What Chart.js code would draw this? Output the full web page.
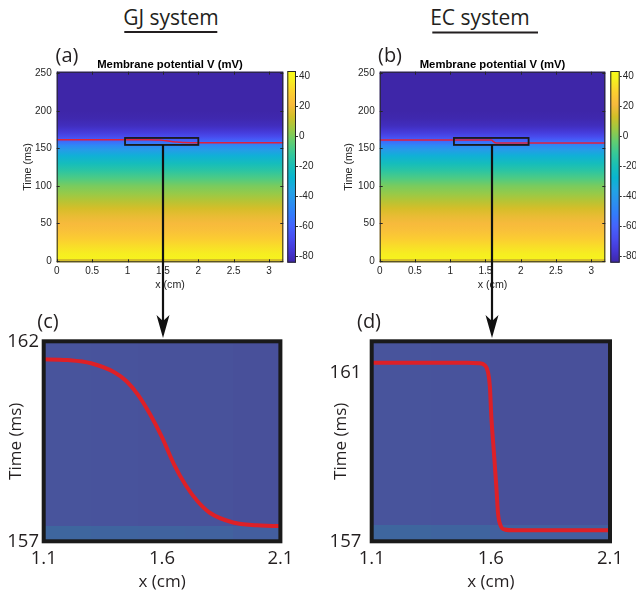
<!DOCTYPE html>
<html>
<head>
<meta charset="utf-8">
<script src="https://cdn.jsdelivr.net/npm/chart.js@4.4.1/dist/chart.umd.min.js"></script>
<style>
  body { margin: 0; background: #fff; }
  #fig { position: relative; width: 636px; height: 597px; overflow: hidden; color: #231f20; }
  #fig canvas { position: absolute; }
  .t { position: absolute; white-space: nowrap; line-height: 1; transform: translateX(-50%); }
  .os { font-family: "Open Sans", sans-serif; }
  .ar { font-family: "Liberation Sans", Arial, sans-serif; font-weight: bold; font-size: 11.3px; color: #000; }
</style>
</head>
<body>
<div id="fig">
  <canvas id="heatGJ" width="300" height="240" style="left:0;top:60px"></canvas>
  <canvas id="barGJ" width="40" height="215" style="left:280px;top:60px"></canvas>
  <canvas id="heatEC" width="300" height="240" style="left:323px;top:60px"></canvas>
  <canvas id="barEC" width="33" height="215" style="left:603px;top:60px"></canvas>
  <canvas id="zoomGJ" width="300" height="297" style="left:0;top:300px"></canvas>
  <canvas id="zoomEC" width="316" height="297" style="left:320px;top:300px"></canvas>

  <div class="t os" style="left:171px;top:7px;font-size:21px">GJ system</div>
  <div class="t os" style="left:480px;top:7px;font-size:21px">EC system</div>
  <div class="t os" style="left:67px;top:45px;font-size:20px">(a)</div>
  <div class="t os" style="left:390px;top:45px;font-size:20px">(b)</div>
  <div class="t ar" style="left:170px;top:59px">Membrane potential V (mV)</div>
  <div class="t ar" style="left:492.5px;top:59px">Membrane potential V (mV)</div>
  <div class="t os" style="left:48px;top:311px;font-size:20px">(c)</div>
  <div class="t os" style="left:369px;top:311px;font-size:20px">(d)</div>

  <svg width="636" height="597" style="position:absolute;left:0;top:0;pointer-events:none">
    <line x1="124.3" y1="32" x2="217.3" y2="32" stroke="#231f20" stroke-width="2"/>
    <line x1="432.3" y1="32.5" x2="538" y2="32.5" stroke="#231f20" stroke-width="2"/>
    <line x1="163" y1="145" x2="163" y2="322" stroke="#111" stroke-width="2.2"/>
    <polygon points="163,338 156.5,315 163,321 169.5,315" fill="#111"/>
    <line x1="492" y1="145" x2="492" y2="322" stroke="#111" stroke-width="2.2"/>
    <polygon points="492,338 485.5,315 492,321 498.5,315" fill="#111"/>
  </svg>
</div>

<script>
// ---- data ----
const heatXTicks = [0, 0.5, 1, 1.5, 2, 2.5, 3];
const heatYTicks = [0, 50, 100, 150, 200, 250];
const barTicks = [-80, -60, -40, -20, 0, 20, 40];
const zoomXTicks = [1.1, 1.6, 2.1];
const gjYTicks = [157, 162];
const ecYTicks = [157, 161];

// membrane potential (mV) along the time axis (rows of the heatmap)
const heatTime = [-2, 2.5, 3, 10, 20, 30, 40, 50, 60, 70, 80, 90, 100, 110, 120, 130, 140, 148, 154, 158, 162, 166, 170, 175, 180, 190, 200, 252];
const heatV    = [14, 14, 39, 37, 33, 28, 24, 21, 18, 14, 9, 4, 0, -7, -14, -21, -30, -39, -47, -55, -63, -69, -73, -77, -80, -83, -84, -84];

// wave front (ms) along x (cm)
const gjX = [0, 1.1, 1.2, 1.3, 1.4, 1.45, 1.5, 1.55, 1.6, 1.65, 1.7, 1.75, 1.8, 1.9, 2.0, 2.1, 3.2];
const gjT = [161.6, 161.55, 161.53, 161.45, 161.22, 161.0, 160.65, 160.17, 159.6, 158.93, 158.4, 158.0, 157.72, 157.47, 157.4, 157.38, 157.35];
const ecX = [0, 1.1, 1.3, 1.5, 1.55, 1.575, 1.588, 1.596, 1.602, 1.612, 1.623, 1.63, 1.642, 1.658, 1.7, 1.9, 2.1, 3.2];
const ecT = [161.24, 161.24, 161.24, 161.24, 161.23, 161.18, 161.02, 160.67, 159.96, 159.17, 158.3, 157.67, 157.36, 157.28, 157.26, 157.26, 157.26, 157.26];

// zoomed background cells (mV)
const cellT = [157, 157.4, 162];
const gjCellX = [1.1, 1.3, 1.5, 1.7, 1.9, 2.1];
const gjCellLow = [-51, -52, -53, -54, -56];
const gjCellHigh = [-64, -65, -65.5, -66, -67];
const ecCellX = [1.1, 1.35, 1.6, 1.85, 2.1];
const ecCellLow = [-51, -52, -55, -56];
const ecCellHigh = [-64, -64.5, -67, -67];

const vMin = -84, vMax = 43.5;

// parula
const parula = [
  [0 / 63, [62, 38, 168]], [4 / 63, [69, 55, 213]], [8 / 63, [72, 77, 240]], [12 / 63, [69, 99, 253]],
  [16 / 63, [50, 124, 252]], [20 / 63, [43, 145, 239]], [24 / 63, [32, 165, 227]], [28 / 63, [8, 181, 208]],
  [32 / 63, [25, 191, 182]], [36 / 63, [55, 200, 151]], [40 / 63, [100, 205, 111]], [44 / 63, [157, 201, 67]],
  [48 / 63, [209, 191, 39]], [52 / 63, [248, 186, 61]], [56 / 63, [252, 207, 48]], [60 / 63, [246, 239, 32]],
  [63 / 63, [249, 251, 21]]
];

function colorFor(v) {
  let f = (v - vMin) / (vMax - vMin);
  f = Math.max(0, Math.min(1, f));
  for (let i = 1; i < parula.length; i++) {
    if (f <= parula[i][0]) {
      const f0 = parula[i - 1][0], c0 = parula[i - 1][1], f1 = parula[i][0], c1 = parula[i][1];
      const k = (f - f0) / (f1 - f0);
      return 'rgb(' + c0.map((c, j) => Math.round(c + (c1[j] - c) * k)).join(',') + ')';
    }
  }
  return 'rgb(249,251,21)';
}

const armFont = '"Liberation Sans", Arial, sans-serif';
const osFont = '"Open Sans", sans-serif';
const dark = '#262626';

function fixTicks(list) {
  return s => { s.ticks = list.map(v => ({ value: v })); };
}

// heatmap rows, MATLAB-style box, zoom box
function heatPlugin(box) {
  return {
    id: 'heat',
    beforeDatasetsDraw(chart) {
      const { ctx, chartArea: a, scales: { y } } = chart;
      const g = ctx.createLinearGradient(0, a.bottom, 0, a.top);
      heatTime.forEach((t, i) => {
        const f = (a.bottom - y.getPixelForValue(t)) / (a.bottom - a.top);
        g.addColorStop(Math.max(0, Math.min(1, f)), colorFor(heatV[i]));
      });
      ctx.save();
      ctx.fillStyle = g;
      ctx.fillRect(a.left, a.top, a.width, a.height);
      ctx.restore();
    },
    afterDatasetsDraw(chart) {
      const { ctx, chartArea: a, scales: { x, y } } = chart;
      ctx.save();
      ctx.strokeStyle = dark;
      ctx.lineWidth = 1;
      ctx.beginPath();
      x.ticks.forEach(tk => {
        const px = Math.round(x.getPixelForValue(tk.value)) + 0.5;
        ctx.moveTo(px, a.bottom); ctx.lineTo(px, a.bottom - 3);
        ctx.moveTo(px, a.top); ctx.lineTo(px, a.top + 3);
      });
      y.ticks.forEach(tk => {
        const py = Math.round(y.getPixelForValue(tk.value)) + 0.5;
        ctx.moveTo(a.left, py); ctx.lineTo(a.left + 3, py);
        ctx.moveTo(a.right, py); ctx.lineTo(a.right - 3, py);
      });
      ctx.stroke();
      ctx.strokeRect(a.left + 0.5, a.top + 0.5, a.width - 1, a.height - 1);
      // zoom window
      const x0 = x.getPixelForValue(box[0]), x1 = x.getPixelForValue(box[1]);
      const y0 = y.getPixelForValue(box[3]), y1 = y.getPixelForValue(box[2]);
      ctx.strokeStyle = '#1a1a1a';
      ctx.lineWidth = 1.8;
      ctx.strokeRect(x0, y0, x1 - x0, y1 - y0);
      ctx.restore();
    }
  };
}

function heatChart(id, xs, ts, box, yTitlePad, rightPad) {
  return new Chart(document.getElementById(id), {
    type: 'scatter',
    data: {
      datasets: [{
        data: xs.map((v, i) => ({ x: v, y: ts[i] })),
        showLine: true, borderColor: '#e0203c', borderWidth: 1.5,
        pointRadius: 0, cubicInterpolationMode: 'monotone', fill: false
      }]
    },
    options: {
      responsive: false, animation: false, devicePixelRatio: 1, events: [],
      layout: { padding: { left: 0, top: 11.7, right: rightPad, bottom: 0 } },
      plugins: { legend: { display: false }, tooltip: { enabled: false } },
      scales: {
        x: {
          type: 'linear', min: 0, max: 3.2,
          afterBuildTicks: fixTicks(heatXTicks),
          afterFit: s => { s.height = 37.7; },
          grid: { display: false, drawTicks: false }, border: { display: false },
          ticks: { font: { family: armFont, size: 10 }, color: dark, padding: 3.2, maxRotation: 0, autoSkip: false, callback: v => String(v) },
          title: { display: true, text: 'x (cm)', font: { family: armFont, size: 10.7 }, color: dark, padding: { top: 0, bottom: 8.4 } }
        },
        y: {
          min: -1.7, max: 252.1,
          afterBuildTicks: fixTicks(heatYTicks),
          afterFit: s => { s.width = 56.7; },
          grid: { display: false, drawTicks: false }, border: { display: false },
          ticks: { font: { family: armFont, size: 10 }, color: dark, padding: 5, autoSkip: false, callback: v => String(v) },
          title: { display: true, text: 'Time (ms)', font: { family: armFont, size: 10.7 }, color: dark, padding: { top: yTitlePad, bottom: 0 } }
        }
      }
    },
    plugins: [heatPlugin(box)]
  });
}

const barPlugin = {
  id: 'bar',
  beforeDatasetsDraw(chart) {
    const { ctx, chartArea: a, scales: { y } } = chart;
    const yb = y.getPixelForValue(vMin), yt = y.getPixelForValue(vMax);
    const g = ctx.createLinearGradient(0, yb, 0, yt);
    parula.forEach(p => g.addColorStop(p[0], 'rgb(' + p[1].join(',') + ')'));
    ctx.save();
    ctx.fillStyle = g;
    ctx.fillRect(a.left, a.top, a.width, a.height);
    ctx.strokeStyle = dark;
    ctx.lineWidth = 1;
    ctx.strokeRect(a.left + 0.5, a.top + 0.5, a.width - 1, a.height - 1);
    ctx.restore();
  }
};

function barChart(id, axisWidth) {
  return new Chart(document.getElementById(id), {
    type: 'scatter',
    data: { datasets: [] },
    options: {
      responsive: false, animation: false, devicePixelRatio: 1, events: [],
      layout: { padding: { left: 7.3, top: 11, right: 0, bottom: 12.3 } },
      plugins: { legend: { display: false }, tooltip: { enabled: false } },
      scales: {
        x: { display: false, min: 0, max: 1 },
        y: {
          position: 'right', min: vMin, max: vMax,
          afterBuildTicks: fixTicks(barTicks),
          afterFit: s => { s.width = axisWidth; },
          grid: { display: true, drawOnChartArea: false, drawTicks: true, tickLength: 2, color: dark }, border: { display: false },
          ticks: { font: { family: armFont, size: 10 }, color: dark, padding: 1, autoSkip: false, callback: v => String(v) }
        }
      }
    },
    plugins: [barPlugin]
  });
}

function zoomPlugin(cx, low, high) {
  return {
    id: 'zoomcells',
    beforeDatasetsDraw(chart) {
      const { ctx, chartArea: a, scales: { x, y } } = chart;
      ctx.save();
      ctx.beginPath();
      ctx.rect(a.left, a.top, a.width, a.height);
      ctx.clip();
      [low, high].forEach((row, r) => {
        const yb = Math.ceil(y.getPixelForValue(cellT[r]));
        const yt = Math.floor(y.getPixelForValue(cellT[r + 1]));
        row.forEach((v, c) => {
          const xl = Math.floor(x.getPixelForValue(cx[c]));
          const xr = Math.ceil(x.getPixelForValue(cx[c + 1]));
          ctx.fillStyle = colorFor(v);
          ctx.fillRect(xl, yt, xr - xl, yb - yt);
        });
      });
      ctx.fillStyle = 'rgba(73,82,82,0.55)';
      ctx.fillRect(a.left, a.top, a.width, a.height);
      ctx.restore();
    },
    afterDatasetsDraw(chart) {
      const { ctx, chartArea: a } = chart;
      ctx.save();
      ctx.strokeStyle = '#1a1a1a';
      ctx.lineWidth = 4;
      ctx.strokeRect(a.left, a.top, a.width, a.height);
      ctx.restore();
    }
  };
}

function zoomChart(id, xs, ts, yMax, yTicks, cells, geo) {
  return new Chart(document.getElementById(id), {
    type: 'scatter',
    data: {
      datasets: [{
        data: xs.map((v, i) => ({ x: v, y: ts[i] })),
        showLine: true, borderColor: '#dd2027', borderWidth: 4,
        pointRadius: 0, cubicInterpolationMode: 'monotone', fill: false
      }]
    },
    options: {
      responsive: false, animation: false, devicePixelRatio: 1, events: [],
      layout: { padding: { left: 0, top: 41.3, right: geo.right, bottom: 0 } },
      plugins: { legend: { display: false }, tooltip: { enabled: false } },
      scales: {
        x: {
          type: 'linear', min: 1.1, max: 2.1,
          afterBuildTicks: fixTicks(zoomXTicks),
          afterFit: s => { s.height = 55.7; },
          grid: { display: false, drawTicks: false }, border: { display: false },
          ticks: { font: { family: osFont, size: 18.5 }, color: '#231f20', padding: 6.6, maxRotation: 0, autoSkip: false, callback: v => v.toFixed(1) },
          title: { display: true, text: 'x (cm)', font: { family: osFont, size: 17 }, color: '#231f20', padding: { top: 0, bottom: 4.8 } }
        },
        y: {
          min: 157, max: yMax,
          afterBuildTicks: fixTicks(yTicks),
          afterFit: s => { s.width = geo.yw; },
          grid: { display: false, drawTicks: false }, border: { display: false },
          ticks: { font: { family: osFont, size: 18.5 }, color: '#231f20', padding: geo.tp, autoSkip: false, callback: v => String(v) },
          title: { display: true, text: 'Time (ms)', font: { family: osFont, size: 17 }, color: '#231f20', padding: { top: geo.ttl, bottom: 0 } }
        }
      }
    },
    plugins: [zoomPlugin(cells[0], cells[1], cells[2])]
  });
}

heatChart('heatGJ', gjX, gjT, [0.965, 2.0, 154.6, 163.9], 21.4, 16.7);
heatChart('heatEC', ecX, ecT, [1.053, 2.112, 154.6, 163.9], 20.1, 17.7);
barChart('barGJ', 24);
barChart('barEC', 16.3);
zoomChart('zoomGJ', gjX, gjT, 162, gjYTicks, [gjCellX, gjCellLow, gjCellHigh], { right: 17, yw: 43.7, tp: 4.7, ttl: 5.5 });
zoomChart('zoomEC', ecX, ecT, 161.75, ecYTicks, [ecCellX, ecCellLow, ecCellHigh], { right: 26, yw: 51.7, tp: 10.4, ttl: 10.5 });
</script>
</body>
</html>
